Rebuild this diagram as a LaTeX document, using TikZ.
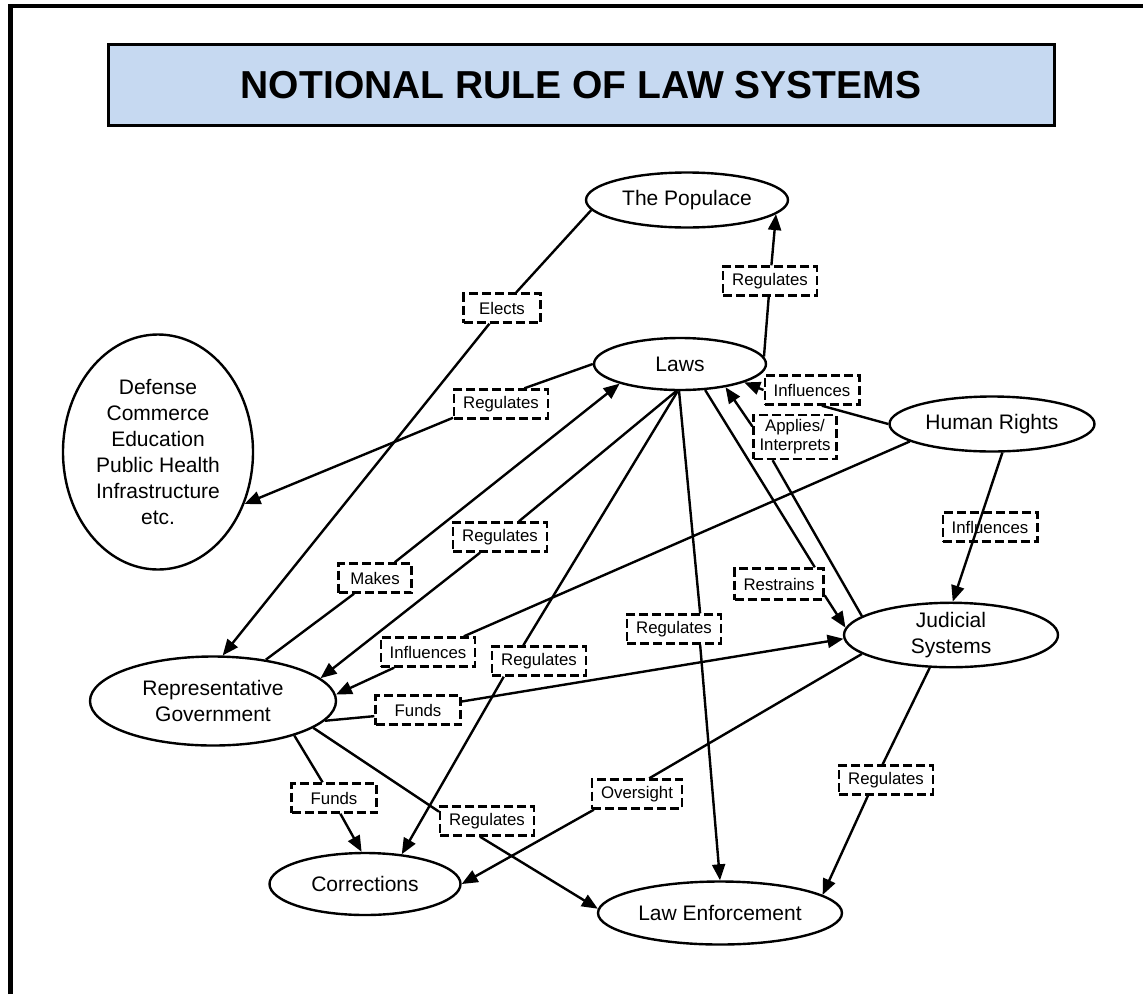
\documentclass[tikz,border=0pt]{standalone}
\usepackage{fontspec}
\setmainfont{Liberation Sans}
\usetikzlibrary{shapes.geometric,arrows.meta}
\definecolor{titleblue}{RGB}{198,217,241}
\begin{document}
\begin{tikzpicture}[x=1pt,y=-1pt,
		sys/.style={ellipse,draw,line width=2.4pt,inner sep=0pt,align=center,font=\fontsize{21}{26}\selectfont},
		lbl/.style={draw,dash pattern=on 9pt off 4pt,line width=2.4pt,inner xsep=9pt,inner ysep=0pt,minimum height=29pt,align=center,font=\fontsize{16.8}{19}\selectfont},
		link/.style={line width=2.4pt,-{Triangle[length=16pt,width=13pt]}}]
				\useasboundingbox (0,0) rectangle (1143,994);
				%frame
				\draw[line width=4.5pt] (10.5,994) -- (10.5,6) -- (1143,6);
				
				%title
				\node[draw,line width=3pt,fill=titleblue,minimum width=946pt,minimum height=81pt,inner sep=0pt,font=\fontsize{39}{45}\bfseries\selectfont] (title) at (581,85) {NOTIONAL RULE OF LAW SYSTEMS};
				
				%systems
				\node[sys,minimum width=202pt,minimum height=55pt] (pop) at (687,200) {The Populace};
				\node[sys,minimum width=172pt,minimum height=52pt] (laws) at (680,364) {Laws};
				\node[sys,minimum width=190pt,minimum height=235pt] (dom) at (158,452) {Defense\\Commerce\\Education\\Public Health\\Infrastructure\\etc.};
				\node[sys,minimum width=205pt,minimum height=55pt] (hr) at (992,424) {Human Rights};
				\node[sys,minimum width=214pt,minimum height=56pt] (jud) at (951,635) {Judicial\\Systems};
				\node[sys,minimum width=246pt,minimum height=89pt] (gov) at (213,701) {Representative\\Government};
				\node[sys,minimum width=191pt,minimum height=62pt] (cor) at (365,884) {Corrections};
				\node[sys,minimum width=244pt,minimum height=63pt] (enf) at (720,913) {Law Enforcement};
				
				%labels
				\node[lbl,minimum width=77pt] (elects) at (502,308) {Elects};
				\node[lbl] (regpop) at (770,281) {Regulates};
				\node[lbl] (regdom) at (501,404) {Regulates};
				\node[lbl] (inflaws) at (812,390) {Influences};
				\node[lbl,inner xsep=6pt,minimum height=44pt] (applies) at (795,437) {Applies/\\Interprets};
				\node[lbl] (infjud) at (990,527) {Influences};
				\node[lbl,minimum height=31pt] (restrains) at (779,584) {Restrains};
				\node[lbl,minimum width=73pt] (makes) at (375,578) {Makes};
				\node[lbl] (reggov) at (500,537) {Regulates};
				\node[lbl] (infgov) at (428,652) {Influences};
				\node[lbl] (regcor) at (539,661) {Regulates};
				\node[lbl] (regenf) at (674,629) {Regulates};
				\node[lbl,minimum width=85pt] (fundsjud) at (418,710) {Funds};
				\node[lbl,minimum width=85pt] (fundscor) at (334,798) {Funds};
				\node[lbl] (reggovenf) at (487,821) {Regulates};
				\node[lbl] (oversight) at (637,794) {Oversight};
				\node[lbl] (regjudenf) at (886,780) {Regulates};
				
				%links
				\draw[link] (pop.186) -- (elects) -- (gov.78);
				\draw[link] (laws.5) -- (regpop) -- (pop.351);
				\draw[link] (laws.180) -- (regdom.34) (regdom.196) -- (dom.329);
				\draw[link] (hr.180) -- (inflaws.302) (inflaws.180) -- (laws.344);
				\draw[link] (jud.168) -- (applies.226) (applies.166) -- (laws.333);
				\draw[link] (laws.314) -- (restrains.25) (restrains.346) -- (jud.176);
				\draw[link] (hr.290) -- (jud.87);
				\draw[link] (gov.38) -- (makes) -- (laws.198);
				\draw[link] (laws.262) -- (reggov) -- (gov.12);
				\draw[link] (hr.192) -- (infgov) -- (gov.3);
				\draw[link] (laws.265) -- (regcor.135) (regcor.204) -- (cor.39);
				\draw[link] (laws.268) -- (regenf.31) (regenf.329) -- (enf.90);
				\draw[link] (gov.350) -- (fundsjud.188) (fundsjud.11) -- (jud.182);
				\draw[link] (gov.337) -- (fundscor.126) (fundscor.292) -- (cor.96);
				\draw[link] (gov.345) -- (reggovenf.169) (reggovenf.246) -- (enf.178);
				\draw[link] (jud.192) -- (oversight.52) (oversight.200) -- (cor.0);
				\draw[link] (jud.237) -- (regjudenf.102) (regjudenf.221) -- (enf.10);
\end{tikzpicture}
\end{document}
